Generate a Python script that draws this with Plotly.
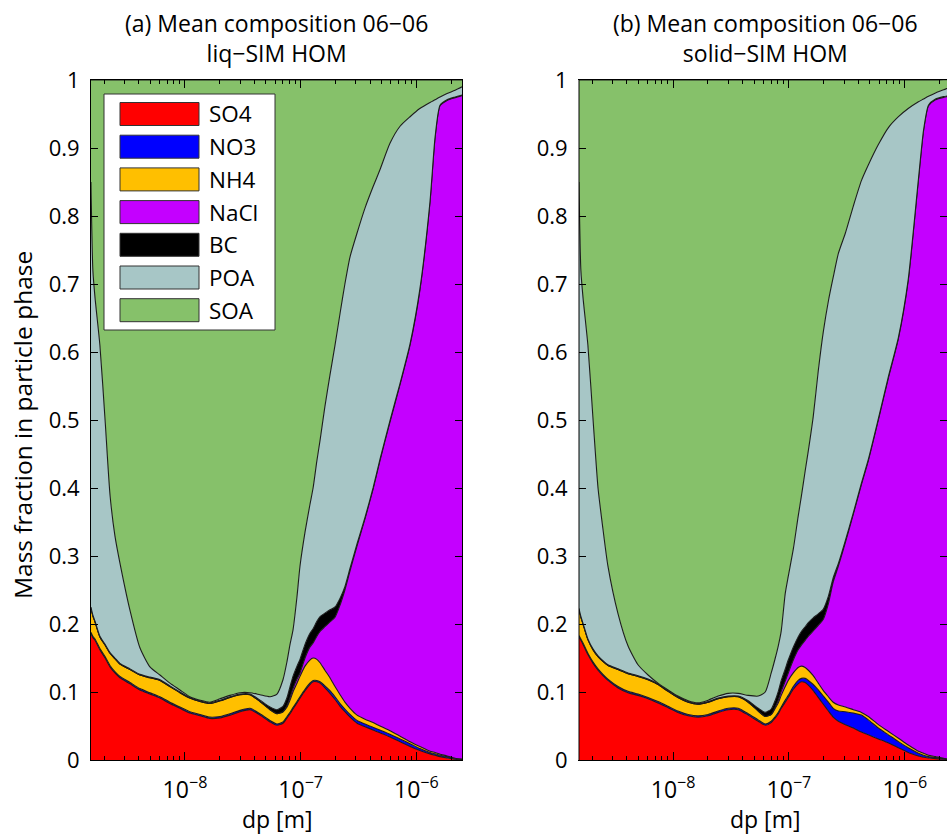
import plotly.graph_objects as go

# ---------------- data ----------------
dp = [1.54e-9, 1.60e-9, 1.67e-9, 1.84e-9, 2.04e-9, 2.25e-9, 2.48e-9, 2.74e-9, 3.35e-9, 4.08e-9,
      4.98e-9, 6.08e-9, 7.41e-9, 9.05e-9, 1.10e-8, 1.35e-8, 1.64e-8, 2.01e-8, 2.45e-8, 2.99e-8,
      3.65e-8, 4.45e-8, 5.43e-8, 6.24e-8, 7.03e-8, 7.62e-8, 8.09e-8, 8.58e-8, 9.29e-8, 9.86e-8,
      1.09e-7, 1.20e-7, 1.28e-7, 1.38e-7, 1.47e-7, 1.62e-7, 1.79e-7, 1.98e-7, 2.19e-7, 2.41e-7,
      2.67e-7, 3.07e-7, 3.60e-7, 4.22e-7, 4.84e-7, 5.91e-7, 7.22e-7, 8.81e-7, 1.07e-6, 1.31e-6,
      1.45e-6, 1.60e-6, 1.84e-6, 2.16e-6, 2.48e-6]

species = ["SO4", "NO3", "NH4", "NaCl", "BC", "POA", "SOA"]
colors = ["#FF0000", "#0000FF", "#FFBF00", "#C400FF", "#000000", "#A7C6C6", "#86C16A"]

# panel (a) liq-SIM HOM
a_SO4 = [0.186, 0.180, 0.176, 0.162, 0.150, 0.137, 0.128, 0.121, 0.112, 0.103,
         0.097, 0.091, 0.083, 0.076, 0.069, 0.065, 0.061, 0.062, 0.066, 0.071,
         0.074, 0.066, 0.056, 0.051, 0.054, 0.062, 0.068, 0.075, 0.084, 0.091,
         0.102, 0.111, 0.115, 0.115, 0.113, 0.106, 0.098, 0.089, 0.079, 0.071,
         0.063, 0.054, 0.049, 0.044, 0.040, 0.034, 0.027, 0.020, 0.014, 0.009,
         0.007, 0.005, 0.003, 0.001, 0.0005]
a_NO3 = [0.002, 0.002, 0.002, 0.002, 0.002, 0.002, 0.002, 0.002, 0.002, 0.002,
         0.002, 0.002, 0.002, 0.002, 0.002, 0.002, 0.002, 0.002, 0.002, 0.002,
         0.002, 0.002, 0.002, 0.002, 0.002, 0.002, 0.002, 0.002, 0.002, 0.002,
         0.002, 0.002, 0.002, 0.002, 0.002, 0.003, 0.004, 0.004, 0.004, 0.004,
         0.004, 0.004, 0.004, 0.004, 0.004, 0.004, 0.004, 0.004, 0.003, 0.002,
         0.002, 0.002, 0.002, 0.001, 0.0005]
a_NH4 = [0.036, 0.030, 0.025, 0.017, 0.017, 0.018, 0.019, 0.018, 0.019, 0.020,
         0.022, 0.024, 0.023, 0.021, 0.020, 0.019, 0.020, 0.023, 0.024, 0.023,
         0.020, 0.018, 0.016, 0.015, 0.015, 0.014, 0.018, 0.023, 0.027, 0.030,
         0.034, 0.034, 0.033, 0.031, 0.028, 0.023, 0.019, 0.015, 0.013, 0.010,
         0.009, 0.008, 0.007, 0.007, 0.006, 0.005, 0.004, 0.003, 0.003, 0.002,
         0.002, 0.0015, 0.001, 0.0005, 0.0003]
a_NaCl = [0, 0, 0, 0, 0, 0, 0, 0, 0, 0,
          0, 0, 0, 0, 0, 0, 0, 0, 0, 0,
          0, 0, 0, 0, 0, 0.002, 0.004, 0.005, 0.006, 0.005,
          0.012, 0.019, 0.022, 0.034, 0.046, 0.064, 0.082, 0.102, 0.132, 0.165,
          0.202, 0.249, 0.295, 0.343, 0.390, 0.454, 0.517, 0.583, 0.670, 0.807,
          0.904, 0.9535, 0.964, 0.9715, 0.9757]
a_BC = [0.001, 0.001, 0.001, 0.001, 0.001, 0.001, 0.001, 0.001, 0.001, 0.001,
        0.001, 0.001, 0.001, 0.001, 0.001, 0.001, 0.001, 0.001, 0.001, 0.001,
        0.001, 0.002, 0.004, 0.006, 0.008, 0.012, 0.016, 0.018, 0.019, 0.020,
        0.020, 0.020, 0.021, 0.022, 0.022, 0.020, 0.018, 0.015, 0.010, 0.005,
        0.004, 0.003, 0.002, 0.002, 0.002, 0.002, 0.002, 0.002, 0.002, 0.001,
        0.001, 0.001, 0.001, 0.001, 0.001]
a_POA = [0.625, 0.507, 0.476, 0.428, 0.330, 0.232, 0.180, 0.148, 0.086, 0.039,
         0.015, 0.007, 0.004, 0.003, 0.001, 0.001, 0.001, 0.002, 0.002, 0.002,
         0.002, 0.008, 0.015, 0.023, 0.039, 0.053, 0.062, 0.068, 0.102, 0.137,
         0.165, 0.189, 0.207, 0.236, 0.259, 0.304, 0.345, 0.385, 0.419, 0.445,
         0.458, 0.457, 0.455, 0.443, 0.426, 0.408, 0.378, 0.334, 0.266, 0.146,
         0.055, 0.012, 0.009, 0.010, 0.012]
a_SOA = [0.150, 0.280, 0.320, 0.390, 0.500, 0.610, 0.670, 0.710, 0.780, 0.835,
         0.863, 0.875, 0.887, 0.897, 0.907, 0.912, 0.915, 0.910, 0.905, 0.901,
         0.901, 0.904, 0.907, 0.903, 0.882, 0.855, 0.830, 0.809, 0.760, 0.715,
         0.665, 0.625, 0.600, 0.560, 0.530, 0.480, 0.434, 0.390, 0.343, 0.300,
         0.260, 0.225, 0.188, 0.157, 0.132, 0.093, 0.068, 0.054, 0.042, 0.033,
         0.029, 0.025, 0.020, 0.015, 0.010]

# panel (b) solid-SIM HOM
b_SO4 = [0.181, 0.176, 0.170, 0.155, 0.142, 0.132, 0.124, 0.117, 0.106, 0.099,
         0.095, 0.090, 0.084, 0.077, 0.070, 0.065, 0.063, 0.065, 0.070, 0.074,
         0.074, 0.066, 0.057, 0.051, 0.055, 0.062, 0.068, 0.076, 0.085, 0.092,
         0.104, 0.112, 0.115, 0.114, 0.110, 0.102, 0.092, 0.082, 0.072, 0.063,
         0.057, 0.052, 0.047, 0.041, 0.037, 0.031, 0.025, 0.018, 0.011, 0.006,
         0.004, 0.003, 0.002, 0.001, 0.0005]
b_NO3 = [0.002, 0.002, 0.002, 0.002, 0.002, 0.002, 0.002, 0.002, 0.002, 0.002,
         0.002, 0.002, 0.002, 0.002, 0.002, 0.002, 0.002, 0.002, 0.002, 0.002,
         0.002, 0.002, 0.002, 0.002, 0.002, 0.002, 0.002, 0.002, 0.003, 0.003,
         0.004, 0.005, 0.005, 0.006, 0.007, 0.009, 0.011, 0.012, 0.013, 0.013,
         0.015, 0.019, 0.022, 0.025, 0.022, 0.016, 0.012, 0.009, 0.007, 0.004,
         0.003, 0.002, 0.0015, 0.001, 0.0005]
b_NH4 = [0.039, 0.032, 0.028, 0.020, 0.018, 0.018, 0.019, 0.020, 0.025, 0.026,
         0.026, 0.026, 0.025, 0.022, 0.020, 0.018, 0.017, 0.018, 0.018, 0.017,
         0.017, 0.017, 0.013, 0.011, 0.010, 0.012, 0.014, 0.017, 0.020, 0.022,
         0.020, 0.019, 0.018, 0.016, 0.015, 0.013, 0.010, 0.008, 0.008, 0.009,
         0.009, 0.007, 0.005, 0.004, 0.005, 0.005, 0.005, 0.005, 0.004, 0.003,
         0.003, 0.002, 0.0015, 0.0005, 0.0003]
b_NaCl = [0, 0, 0, 0, 0, 0, 0, 0, 0, 0,
          0, 0, 0, 0, 0, 0, 0, 0, 0, 0,
          0, 0, 0, 0, 0, 0.002, 0.004, 0.006, 0.008, 0.011,
          0.019, 0.026, 0.031, 0.040, 0.050, 0.066, 0.085, 0.105, 0.137, 0.177,
          0.204, 0.242, 0.288, 0.335, 0.376, 0.448, 0.520, 0.588, 0.683, 0.840,
          0.915, 0.955, 0.966, 0.972, 0.975]
b_BC = [0.001, 0.001, 0.001, 0.001, 0.001, 0.001, 0.001, 0.001, 0.001, 0.001,
        0.001, 0.001, 0.001, 0.001, 0.001, 0.001, 0.001, 0.001, 0.001, 0.001,
        0.001, 0.002, 0.004, 0.006, 0.008, 0.010, 0.013, 0.016, 0.018, 0.019,
        0.019, 0.019, 0.020, 0.020, 0.020, 0.019, 0.017, 0.015, 0.011, 0.006,
        0.004, 0.003, 0.002, 0.002, 0.002, 0.002, 0.002, 0.002, 0.002, 0.001,
        0.001, 0.001, 0.001, 0.001, 0.001]
b_POA = [0.627, 0.509, 0.479, 0.432, 0.337, 0.247, 0.194, 0.145, 0.081, 0.040,
         0.016, 0.006, 0.001, 0.001, 0.001, 0.001, 0.001, 0.002, 0.003, 0.004,
         0.004, 0.008, 0.018, 0.030, 0.053, 0.062, 0.067, 0.073, 0.111, 0.123,
         0.144, 0.177, 0.199, 0.229, 0.253, 0.296, 0.357, 0.408, 0.434, 0.442,
         0.456, 0.452, 0.451, 0.445, 0.433, 0.403, 0.366, 0.324, 0.251, 0.114,
         0.046, 0.013, 0.009, 0.010, 0.013]
b_SOA = [0.150, 0.280, 0.320, 0.390, 0.500, 0.600, 0.660, 0.715, 0.785, 0.832,
         0.860, 0.875, 0.887, 0.897, 0.906, 0.913, 0.916, 0.912, 0.906, 0.902,
         0.902, 0.905, 0.906, 0.900, 0.872, 0.850, 0.832, 0.810, 0.755, 0.730,
         0.690, 0.642, 0.612, 0.575, 0.545, 0.495, 0.428, 0.370, 0.325, 0.290,
         0.255, 0.225, 0.185, 0.148, 0.125, 0.095, 0.070, 0.054, 0.042, 0.032,
         0.028, 0.024, 0.019, 0.015, 0.010]

panel_a = [a_SO4, a_NO3, a_NH4, a_NaCl, a_BC, a_POA, a_SOA]
panel_b = [b_SO4, b_NO3, b_NH4, b_NaCl, b_BC, b_POA, b_SOA]

titles_a = ["(a) Mean composition 06\u221206", "liq\u2212SIM HOM"]
titles_b = ["(b) Mean composition 06\u221206", "solid\u2212SIM HOM"]
y_label = "Mass fraction in particle phase"
x_label = "dp [m]"

y_ticks = [i / 10 for i in range(11)]
y_ticktext = ["0", "0.1", "0.2", "0.3", "0.4", "0.5", "0.6", "0.7", "0.8", "0.9", "1"]
x_major = [1e-8, 1e-7, 1e-6]
x_major_text = ["10<sup>\u22128</sup>", "10<sup>\u22127</sup>", "10<sup>\u22126</sup>"]
x_minor = [m * 10.0 ** e for e in (-9, -8, -7, -6) for m in range(2, 10)]

# ---------------- layout geometry (pixels) ----------------
W, H = 947, 837
FONT = "Open Sans"


def fx(p):
    return p / W


def fy(p):
    return 1 - p / H


fig = go.Figure()

for panel, xa, ya, grp in ((panel_a, "x", "y", "a"), (panel_b, "x2", "y2", "b")):
    for name, col, vals in zip(species, colors, panel):
        fig.add_trace(go.Scatter(
            x=dp, y=vals, mode="lines", stackgroup=grp, name=name,
            line=dict(color="#1c1c1c", width=1.1, shape="spline", smoothing=0.6),
            fillcolor=col, xaxis=xa, yaxis=ya, showlegend=False, hoverinfo="skip"))

ydom = [fy(760), fy(80)]
rng_a = [-8.812, -5.606]
rng_b = [-8.812, -5.636]

xaxis_common = dict(
    type="log", tickmode="array", tickvals=x_major, ticktext=x_major_text,
    ticks="inside", ticklen=8, tickwidth=1, tickcolor="black",
    showline=True, linecolor="black", linewidth=1, mirror="ticks",
    showgrid=False, zeroline=False, layer="above traces",
    tickfont=dict(family=FONT, size=23, color="black"),
    automargin=False, ticklabelstandoff=9,
)
# overlay axes that carry the short minor ticks
minor_common = dict(
    type="log", tickmode="array", tickvals=x_minor, showticklabels=False,
    ticks="inside", ticklen=4, tickwidth=1, tickcolor="black",
    showline=False, mirror="ticks", showgrid=False, zeroline=False, layer="above traces",
    automargin=False,
)
yaxis_common = dict(
    range=[0, 1], tickmode="array", tickvals=y_ticks, ticktext=y_ticktext,
    ticks="inside", ticklen=7, tickwidth=1, tickcolor="black",
    showline=True, linewidth=1, mirror="ticks", layer="above traces",
    showgrid=False, zeroline=False,
    tickfont=dict(family=FONT, size=22, color="black"),
    automargin=False, ticklabelstandoff=6,
)

fig.update_layout(
    width=W, height=H,
    margin=dict(l=0, r=0, t=0, b=0),
    paper_bgcolor="white", plot_bgcolor="white",
    xaxis=dict(domain=[fx(91), fx(462)], range=rng_a, anchor="y", **xaxis_common),
    yaxis=dict(domain=ydom, anchor="x", linecolor="black", **yaxis_common),
    xaxis2=dict(domain=[fx(579), 1.0], range=rng_b, anchor="y2", **xaxis_common),
    yaxis2=dict(domain=ydom, anchor="x2", linecolor="rgba(0,0,0,0)", **yaxis_common),
    xaxis3=dict(domain=[fx(91), fx(462)], range=rng_a, anchor="y", overlaying="x", **minor_common),
    xaxis4=dict(domain=[fx(579), 1.0], range=rng_b, anchor="y2", overlaying="x2", **minor_common),
    showlegend=False,
)
# invisible helper traces so the minor-tick axes are drawn
fig.add_trace(go.Scatter(x=[dp[0]], y=[0], xaxis="x3", yaxis="y", mode="markers",
                         marker=dict(opacity=0), showlegend=False, hoverinfo="skip"))
fig.add_trace(go.Scatter(x=[dp[0]], y=[0], xaxis="x4", yaxis="y2", mode="markers",
                         marker=dict(opacity=0), showlegend=False, hoverinfo="skip"))

shapes = []
annotations = []

# left border of panel (b) (its right border lies outside the window)
shapes.append(dict(type="line", xref="x2 domain", yref="y2 domain", x0=0, x1=0, y0=0, y1=1,
                   line=dict(color="black", width=1), layer="above"))

# two-line titles and x-axis labels
for cx, lines in ((276.5, titles_a), (765, titles_b)):
    annotations.append(dict(text="<br>".join(lines), x=fx(cx), y=fy(38), xref="paper", yref="paper",
                            xanchor="center", yanchor="middle", showarrow=False, align="center",
                            font=dict(family=FONT, size=23, color="black")))
    annotations.append(dict(text=x_label, x=fx(cx), y=fy(819), xref="paper", yref="paper",
                            xanchor="center", yanchor="middle", showarrow=False,
                            font=dict(family=FONT, size=23, color="black")))

annotations.append(dict(text=y_label, x=fx(22), y=fy(425), xref="paper", yref="paper",
                        xanchor="center", yanchor="middle", showarrow=False, textangle=-90,
                        font=dict(family=FONT, size=24.5, color="black")))

# legend box (panel a)
shapes.append(dict(type="rect", xref="paper", yref="paper", x0=fx(104), x1=fx(275), y0=fy(330), y1=fy(94),
                   fillcolor="white", line=dict(color="#333333", width=1)))
for i, (name, col) in enumerate(zip(species, colors)):
    cy = 114 + 32.7 * i
    shapes.append(dict(type="rect", xref="paper", yref="paper", x0=fx(120), x1=fx(199),
                       y0=fy(cy + 11.5), y1=fy(cy - 11.5), fillcolor=col,
                       line=dict(color="#333333", width=1)))
    annotations.append(dict(text=name, x=fx(207), y=fy(cy), xref="paper", yref="paper",
                            xanchor="left", yanchor="middle", showarrow=False,
                            font=dict(family=FONT, size=22.5, color="black")))

fig.update_layout(shapes=shapes, annotations=annotations)
fig.write_html("out.html")
